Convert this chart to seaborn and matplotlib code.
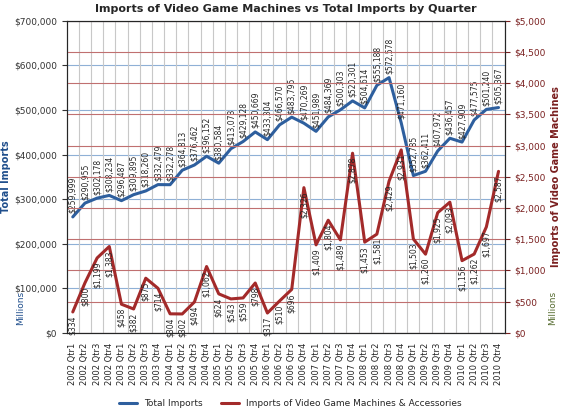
import numpy as np
import pandas as pd
import seaborn as sns
import matplotlib.pyplot as plt
from matplotlib.ticker import FuncFormatter

quarters = [f"{y} Qtr{q}" for y in range(2002, 2011) for q in range(1, 5)]
total_imports = [259999, 290955, 302178, 308234, 296487, 309895, 318260, 332479,
                 332278, 364813, 376462, 396152, 380584, 413073, 429128, 450669,
                 433304, 466570, 483795, 470269, 451989, 484369, 500303, 520301,
                 504614, 555188, 572578, 471160, 352785, 362411, 407972, 436457,
                 427909, 477575, 501240, 505367]
video_games = [334, 800, 1199, 1383, 458, 382, 875, 714, 304, 302, 494, 1062,
               624, 543, 559, 798, 317, 510, 696, 2326, 1409, 1804, 1489, 2878,
               1453, 1581, 2429, 2931, 1503, 1260, 1925, 2093, 1156, 1262, 1697, 2587]

df = pd.DataFrame({"Quarter": quarters, "Total": total_imports, "Video": video_games,
                   "x": np.arange(len(quarters))})

sns.set_style("white")
fig, ax = plt.subplots(figsize=(5.8, 4.16), dpi=100)
ax2 = ax.twinx()

sns.lineplot(data=df, x="x", y="Total", ax=ax, color="#2e5f9e", lw=2.2, label="Total Imports", legend=False)
sns.lineplot(data=df, x="x", y="Video", ax=ax2, color="#a32a2a", lw=2.2,
             label="Imports of Video Game Machines & Accessories", legend=False)

ax.set_ylim(0, 700000)
ax2.set_ylim(0, 5000)
ax.set_xlim(-0.5, len(quarters) - 0.5)
ax.set_yticks(np.arange(0, 700001, 100000))
ax2.set_yticks(np.arange(0, 5001, 500))
ax.yaxis.set_major_formatter(FuncFormatter(lambda v, p: f"${v:,.0f}"))
ax2.yaxis.set_major_formatter(FuncFormatter(lambda v, p: f"${v:,.0f}"))
ax.set_xticks(df["x"])
ax.set_xticklabels(quarters, rotation=90, fontsize=6)
ax.tick_params(axis="y", labelsize=6.5, colors="#333333")
ax2.tick_params(axis="y", labelsize=6.5, colors="#7a2020")

# grids
for v in np.arange(0, 700001, 100000):
    ax.axhline(v, color="#8fb0d6", lw=0.8, zorder=0)
for v in np.arange(0, 5001, 500):
    ax2.axhline(v, color="#c07070", lw=0.8, zorder=0)
for xv in df["x"]:
    ax.axvline(xv + 0.5, color="#c8c8c8", lw=0.8, zorder=0)

for xv, v in zip(df["x"], total_imports):
    ax.text(xv, v + 8000, f"${v:,}", rotation=90, fontsize=5.5, ha="center", va="bottom")
for xv, v in zip(df["x"], video_games):
    ax2.text(xv, v - 60, f"${v:,}", rotation=90, fontsize=5.5, ha="center", va="top")

ax.set_xlabel("")
ax.set_ylabel("Total Imports", fontsize=7, fontweight="bold", color="#1f4e8c", labelpad=2)
ax2.set_ylabel("Imports of Video Game Machines", fontsize=7, fontweight="bold", color="#7a1f1f")
ax.text(-0.115, 0.03, "Millions", transform=ax.transAxes, rotation=90, fontsize=6.5, color="#1f4e8c")
ax2.text(1.1, 0.03, "Millions", transform=ax.transAxes, rotation=90, fontsize=6.5, color="#556b2f")
ax.set_title("Imports of Video Game Machines vs Total Imports by Quarter", fontsize=8, fontweight="bold")

h1, l1 = ax.get_legend_handles_labels()
h2, l2 = ax2.get_legend_handles_labels()
fig.legend(h1 + h2, l1 + l2, loc="lower center", ncol=2, fontsize=6.5, frameon=False,
           bbox_to_anchor=(0.5, 0.0))

plt.subplots_adjust(left=0.115, right=0.87, top=0.95, bottom=0.2)
fig.savefig("out.png", dpi=100)
